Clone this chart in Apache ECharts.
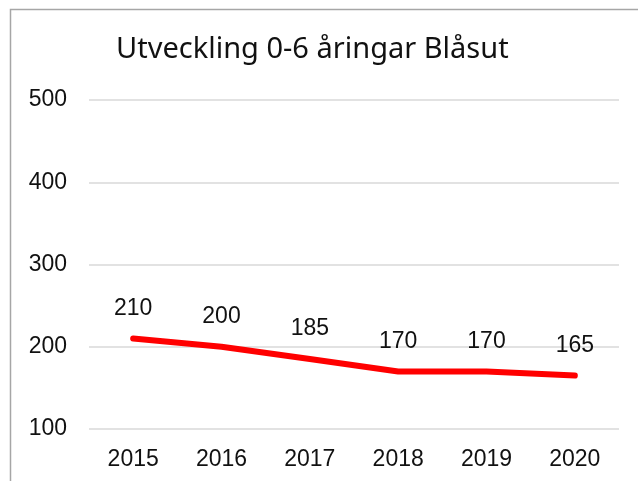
<!DOCTYPE html>
<html>
<head>
<meta charset="utf-8">
<script src="https://cdn.jsdelivr.net/npm/echarts@6/dist/echarts.min.js"></script>
<style>
  html, body { margin: 0; padding: 0; background: #fff; }
  #chart { width: 638px; height: 481px; }
</style>
</head>
<body>
<div id="chart"></div>
<script>
const years = ['2015', '2016', '2017', '2018', '2019', '2020'];
const children = [210, 200, 185, 170, 170, 165];

const chart = echarts.init(document.getElementById('chart'));

const option = {
  animation: false,
  title: {
    text: 'Utveckling 0-6 åringar Blåsut',
    left: 111,
    top: 30,
    textStyle: {
      fontFamily: 'Noto Sans',
      fontWeight: 'normal',
      fontSize: 29,
      color: '#111'
    }
  },
  graphic: [
    {
      type: 'polyline',
      shape: { points: [[10.5, 481], [10.5, 9.5], [638, 9.5]] },
      style: { stroke: '#a6a6a6', lineWidth: 1.5, fill: null }
    }
  ],
  grid: {
    left: 89,
    right: 19,
    top: 100,
    bottom: 52
  },
  xAxis: {
    type: 'category',
    data: years,
    boundaryGap: true,
    axisLine: { show: false },
    axisTick: { show: false },
    axisLabel: {
      margin: 19,
      color: '#111',
      fontFamily: 'Liberation Sans',
      fontSize: 23
    }
  },
  yAxis: {
    type: 'value',
    min: 100,
    max: 500,
    interval: 100,
    axisLine: { show: false },
    axisTick: { show: false },
    axisLabel: {
      margin: 22,
      color: '#111',
      fontFamily: 'Liberation Sans',
      fontSize: 23
    },
    splitLine: {
      lineStyle: { color: '#d9d9d9', width: 1.5 }
    }
  },
  series: [
    {
      type: 'line',
      data: children,
      showSymbol: true,
      symbol: 'circle',
      symbolSize: 1,
      itemStyle: { color: '#ff0000' },
      lineStyle: { color: '#ff0000', width: 6, cap: 'round', join: 'round' },
      label: {
        show: true,
        position: 'top',
        distance: 18,
        color: '#111',
        fontFamily: 'Liberation Sans',
        fontSize: 23
      }
    }
  ]
};

chart.setOption(option);
</script>
</body>
</html>
